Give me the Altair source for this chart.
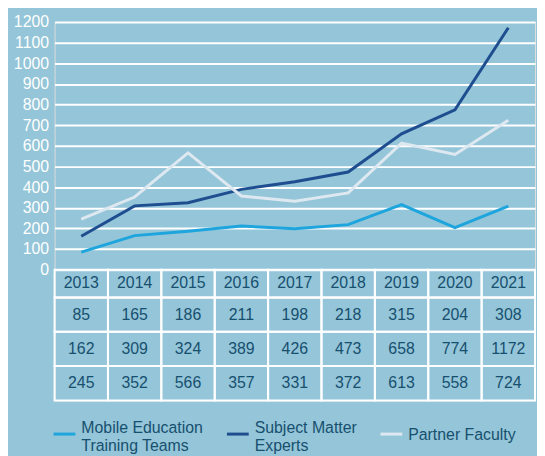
import altair as alt
import pandas as pd

years = ["2013", "2014", "2015", "2016", "2017", "2018", "2019", "2020", "2021"]
met = [85, 165, 186, 211, 198, 218, 315, 204, 308]
sme = [162, 309, 324, 389, 426, 473, 658, 774, 1172]
pf = [245, 352, 566, 357, 331, 372, 613, 558, 724]
series = ["Mobile Education Training Teams", "Subject Matter Experts", "Partner Faculty"]
legend_labels = ["Mobile Education\nTraining Teams", "Subject Matter\nExperts", "Partner Faculty"]
y_ticks = list(range(0, 1300, 100))

colors = ["#1ea5dd", "#1f4e90", "#dde8f0"]
BG = "#94c5d8"
TXT = "#17506f"
FONT = "Liberation Sans"
W = 485
BODY_H = 104

rows = []
for s, vals in zip(series, [met, sme, pf]):
    for y, v in zip(years, vals):
        rows.append({"year": y, "series": s, "value": v})
df = pd.DataFrame(rows)
leg = pd.DataFrame({"series": series, "label": legend_labels})
hdr = pd.DataFrame({"year": years})

color = alt.Color("series:N", scale=alt.Scale(domain=series, range=colors), legend=None)
xpt = alt.X("year:O", scale=alt.Scale(type="point", padding=0.5, domain=years), axis=None)
xb = alt.X("year:O", scale=alt.Scale(domain=years, paddingInner=0, paddingOuter=0), axis=None)
yb = alt.Y("series:N", scale=alt.Scale(domain=series, paddingInner=0, paddingOuter=0), axis=None)

lines = alt.Chart(df).mark_line(strokeWidth=3).encode(
    x=xpt,
    y=alt.Y("value:Q", scale=alt.Scale(domain=[0, 1200], nice=False),
            axis=alt.Axis(values=y_ticks, format="d", grid=True, gridColor="white", gridWidth=2,
                          gridOpacity=1, domain=False, ticks=False, labelColor="white",
                          labelFontSize=16, labelPadding=6, labelFont=FONT, title=None)),
    color=color,
).properties(width=W, height=250)

cell_style = dict(fill=BG, fillOpacity=0, stroke="white", strokeWidth=2, strokeOpacity=1)

header = alt.layer(
    alt.Chart(hdr).mark_rect(**cell_style).encode(x=xb),
    alt.Chart(hdr).mark_text(fontSize=16, color=TXT, font=FONT, baseline="middle").encode(
        x=xb, text="year:N"),
).properties(width=W, height=28)

# legend drawn below the table body
legend_x = [-1, 174, 329]
legend_text_y = [28, 28, 35]
legend_layers = []
for s, c, x0, ty in zip(series, colors, legend_x, legend_text_y):
    base = alt.Chart(leg).transform_filter(alt.datum.series == s)
    legend_layers.append(base.mark_rule(strokeWidth=3, color=c).encode(
        x=alt.value(x0), x2=alt.value(x0 + 22),
        y=alt.value(BODY_H + 34), y2=alt.value(BODY_H + 34)))
    legend_layers.append(base.mark_text(align="left", baseline="middle", lineBreak="\n",
                                        fontSize=16, lineHeight=18, color=TXT, font=FONT).encode(
        x=alt.value(x0 + 28), y=alt.value(BODY_H + ty), text="label:N"))

body = alt.layer(
    alt.Chart(df).mark_rect(**cell_style).encode(x=xb, y=yb),
    alt.Chart(df).mark_text(fontSize=16, color=TXT, font=FONT, baseline="middle").encode(
        x=xb, y=yb, text=alt.Text("value:Q", format="d")),
    *legend_layers,
).properties(width=W, height=BODY_H)

chart = alt.vconcat(lines, header, body, spacing=0).properties(
    bounds="flush", background=BG,
    padding={"left": 4, "top": 3, "right": 0, "bottom": 0},
).configure_view(stroke="transparent", strokeWidth=0).configure(font=FONT)

chart.save("out.html", embed_options={"renderer": "svg", "actions": False})
